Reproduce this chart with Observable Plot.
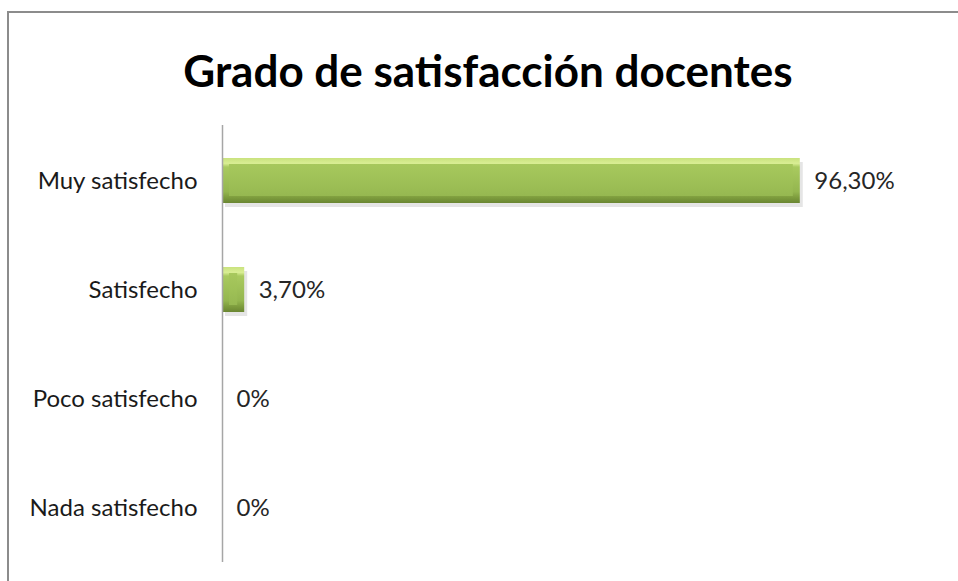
<!DOCTYPE html>
<html><head><meta charset="utf-8">
<script src="https://cdn.jsdelivr.net/npm/d3@7"></script>
<script src="https://cdn.jsdelivr.net/npm/@observablehq/plot@0.6"></script>
<style>
body{margin:0;background:#fff;width:958px;height:581px;overflow:hidden;position:relative;}
#frame{position:absolute;left:7px;top:11px;width:960px;height:580px;border-left:2px solid #8c8c8c;border-top:2px solid #8c8c8c;}
#title{position:absolute;left:0;width:976px;top:40px;text-align:center;font-family:Lato,sans-serif;font-weight:bold;font-size:44px;color:#000;line-height:60px;}
#chart{position:absolute;left:0;top:0;}
</style></head>
<body>
<div id="frame"></div>
<div id="title">Grado de satisfacción docentes</div>
<div id="chart"></div>
<script>
const categories = ["Muy satisfecho", "Satisfecho", "Poco satisfecho", "Nada satisfecho"];
const values = [96.3, 3.7, 0, 0];
const valueLabels = ["96,30%", "3,70%", "0%", "0%"];

const data = categories.map((c, i) => ({cat: c, v: values[i], label: valueLabels[i]}));

const plot = Plot.plot({
  width: 958,
  height: 581,
  marginTop: 125,
  marginBottom: 19,
  marginLeft: 222,
  marginRight: 136,
  style: {fontFamily: "Lato, sans-serif", fontSize: "24px", background: "transparent"},
  x: {domain: [0, 100], axis: null},
  y: {domain: categories, paddingInner: 0.588, paddingOuter: 0.294, label: null, tickSize: 0, tickPadding: 25},
  marks: [
    Plot.barX(data, {y: "cat", x: "v", fill: "#000", fillOpacity: 0.1, dx: 3, dy: 4}),
    Plot.barX(data, {y: "cat", x: "v", fill: "url(#outerGrad)"}),
    Plot.barX(data.filter(d => d.v > 2), {y: "cat", x: "v", fill: "url(#innerGrad)", insetTop: 6, insetBottom: 7, insetLeft: 7, insetRight: 7}),
    Plot.ruleX([0], {stroke: "#a6a6a6", strokeWidth: 1.5}),
    Plot.text(data, {y: "cat", x: "v", text: "label", dx: 14, textAnchor: "start", fill: "#262626", fontSize: 24}),
    Plot.axisY({tickSize: 0, tickPadding: 25, fontSize: 24, fill: "#1a1a1a", label: null})
  ]
});

const defs = d3.select(plot).insert("defs", ":first-child");
const og = defs.append("linearGradient").attr("id", "outerGrad").attr("x1", 0).attr("y1", 0).attr("x2", 0).attr("y2", 1);
[["0", "#c9e27e"], ["0.12", "#d9ee94"], ["0.2", "#a9ca5f"], ["0.75", "#94b64f"], ["0.88", "#7d9c3d"], ["1", "#6a8632"]]
  .forEach(([o, c]) => og.append("stop").attr("offset", o).attr("stop-color", c));
const ig = defs.append("linearGradient").attr("id", "innerGrad").attr("x1", 0).attr("y1", 0).attr("x2", 0).attr("y2", 1);
[["0", "#a7c85d"], ["0.5", "#9fc157"], ["1", "#96b851"]]
  .forEach(([o, c]) => ig.append("stop").attr("offset", o).attr("stop-color", c));

document.getElementById("chart").appendChild(plot);
</script>
</body></html>
